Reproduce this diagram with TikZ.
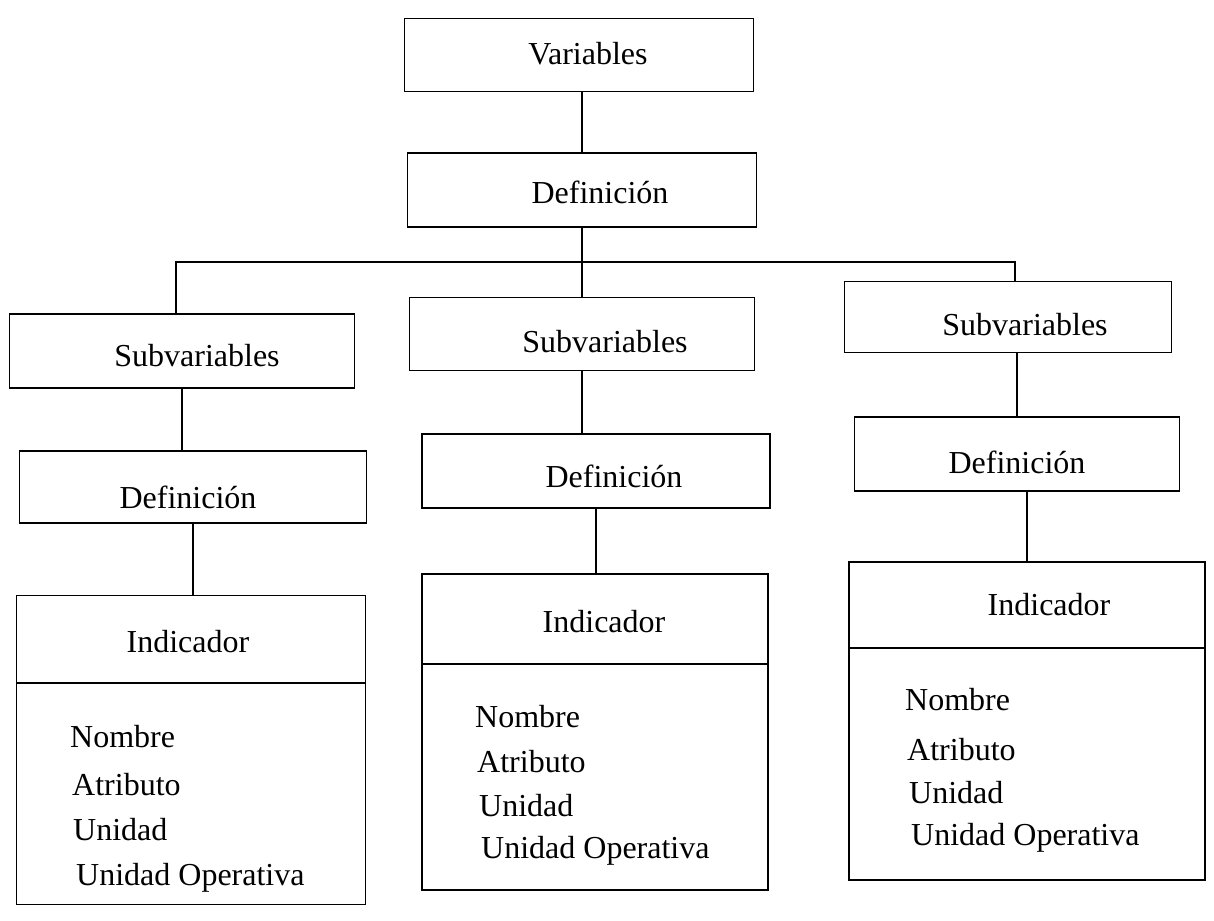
\documentclass[tikz,border=0pt]{standalone}
\usepackage{fontspec}
\setmainfont{Liberation Serif}
\begin{document}
\begin{tikzpicture}[x=1pt,y=-1pt,
  box/.style={draw, line width=1.4pt, inner sep=0pt},
  lbl/.style={anchor=base, inner sep=0pt, font=\fontsize{32}{38}\selectfont},
  item/.style={anchor=base west, inner sep=0pt, font=\fontsize{32}{38}\selectfont},
  conn/.style={line width=1.4pt}]
\useasboundingbox (0,0) rectangle (1214,920);
% top boxes
\node[box, minimum width=349pt, minimum height=73pt] (var) at (579,55) {};
\node[lbl] (tvar) at (588,65) {Variables};
\node[box, minimum width=349pt, minimum height=74pt] (def0) at (582,190) {};
\node[lbl] (tdef0) at (600,204) {Definición};
% subvariables
\node[box, minimum width=345pt, minimum height=74pt] (subL) at (182,351) {};
\node[lbl] (tsubL) at (197,366) {Subvariables};
\node[box, minimum width=345pt, minimum height=73pt] (subM) at (582,334) {};
\node[lbl] (tsubM) at (605,352) {Subvariables};
\node[box, minimum width=327pt, minimum height=71pt] (subR) at (1008,317) {};
\node[lbl] (tsubR) at (1025,335) {Subvariables};
% definiciones
\node[box, minimum width=347pt, minimum height=72pt] (defL) at (193,487) {};
\node[lbl] (tdefL) at (188,508) {Definición};
\node[box, minimum width=348pt, minimum height=74pt] (defM) at (596,471) {};
\node[lbl] (tdefM) at (614,487) {Definición};
\node[box, minimum width=325pt, minimum height=74pt] (defR) at (1017,454) {};
\node[lbl] (tdefR) at (1017,473) {Definición};
% indicadores
\node[box, minimum width=349pt, minimum height=309pt] (indL) at (191,750) {};
\node[lbl] (tindL) at (188,652) {Indicador};
\node[box, minimum width=346pt, minimum height=316pt] (indM) at (595,732) {};
\node[lbl] (tindM) at (604,632) {Indicador};
\node[box, minimum width=356pt, minimum height=318pt] (indR) at (1027,721) {};
\node[lbl] (tindR) at (1049,615) {Indicador};
\draw[conn] (indL.west |- 0,683) -- (indL.east |- 0,683);
\draw[conn] (indM.west |- 0,664) -- (indM.east |- 0,664);
\draw[conn] (indR.west |- 0,648) -- (indR.east |- 0,648);
% items
\node[item] (nL) at (70,747) {Nombre};
\node[item] (aL) at (72,795) {Atributo};
\node[item] (uL) at (73,840) {Unidad};
\node[item] (oL) at (76,885) {Unidad Operativa};
\node[item] (nM) at (475,727) {Nombre};
\node[item] (aM) at (477,772) {Atributo};
\node[item] (uM) at (479,816) {Unidad};
\node[item] (oM) at (481,858) {Unidad Operativa};
\node[item] (nR) at (905,710) {Nombre};
\node[item] (aR) at (907,760) {Atributo};
\node[item] (uR) at (909,803) {Unidad};
\node[item] (oR) at (911,845) {Unidad Operativa};
% connectors
\draw[conn] (var.south -| def0.south) -- (def0.north);
\coordinate (busL) at (176,262);
\coordinate (busR) at (1015,262);
\draw[conn] (def0.south) -- (def0.south |- subM.north);
\draw[conn] (busL |- subL.north) -- (busL) -- (busR) -- (busR |- subR.north);
\draw[conn] (subL.south) -- (subL.south |- defL.north);
\draw[conn] (defL.south) -- (defL.south |- indL.north);
\draw[conn] (subM.south) -- (subM.south |- defM.north);
\draw[conn] (defM.south) -- (defM.south |- indM.north);
\draw[conn] (defR.north |- subR.south) -- (defR.north);
\draw[conn] ([xshift=10pt]defR.south) -- ([xshift=10pt]defR.south |- indR.north);
\end{tikzpicture}
\end{document}
